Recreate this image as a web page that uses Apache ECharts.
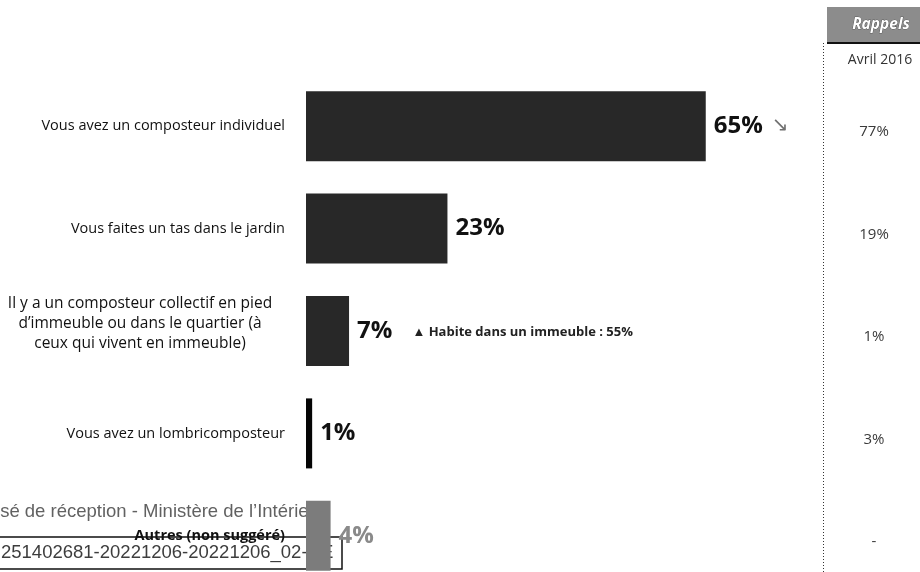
<!DOCTYPE html>
<html>
<head>
<meta charset="utf-8">
<script src="https://cdn.jsdelivr.net/npm/echarts@6/dist/echarts.min.js"></script>
<style>
  html, body { margin: 0; padding: 0; background: #ffffff; }
  #chart { width: 920px; height: 572px; }
</style>
</head>
<body>
<div id="chart"></div>
<script>
// Answers (current wave) and the reminder column from April 2016
const categories = [
  'Vous avez un composteur individuel',
  'Vous faites un tas dans le jardin',
  'Il y a un composteur collectif en pied\nd\u2019immeuble ou dans le quartier (à\nceux qui vivent en immeuble)',
  'Vous avez un lombricomposteur',
  'Autres (non suggéré)'
];
const values = [65, 23, 7, 1, 4];
const rappels2016 = ['77%', '19%', '1%', '3%', '-'];
const notes = ['\u2198', '', '\u25B2 Habite dans un immeuble : 55%', '', ''];

// Styling per bar
const barColors = ['#282828', '#282828', '#282828', '#050505', '#7c7c7c'];
const valueTokens = ['v', 'v', 'v', 'v', 'vg'];
const noteTokens = ['a', '', 'n', '', ''];

const chart = echarts.init(document.getElementById('chart'));

const FONT = '"Open Sans", sans-serif';
const STAMP_FONT = '18.5px "Liberation Sans", Arial, sans-serif';

chart.setOption({
  backgroundColor: '#ffffff',
  animation: false,
  grid: { left: 306, top: 75, width: 492, height: 512, outerBoundsMode: 'none' },
  xAxis: { type: 'value', min: 0, max: 80, show: false },
  yAxis: [
    {
      type: 'category',
      data: categories,
      inverse: true,
      axisLine: { show: false },
      axisTick: { show: false },
      splitLine: { show: false },
      axisLabel: {
        margin: 21,
        fontSize: 14.5,
        fontFamily: FONT,
        color: '#111111',
        formatter: function (value, idx) {
          if (value.indexOf('\n') >= 0) {
            // centred multi-line block, nudged upward by a blank trailing line
            return value.split('\n').map(function (l) { return '{c|' + l + '}'; }).join('\n') + '\n{e| }';
          }
          if (idx === categories.length - 1) return '{b|' + value + '}';
          return value;
        },
        rich: {
          c: { width: 290, align: 'center', fontSize: 15.5, lineHeight: 20, fontFamily: FONT, color: '#111111' },
          e: { fontSize: 8, lineHeight: 14 },
          b: { fontSize: 14.5, fontWeight: 'bold', fontFamily: FONT, color: '#111111' }
        }
      }
    },
    {
      type: 'category',
      data: categories,
      inverse: true,
      position: 'right',
      axisLine: { show: false },
      axisTick: { show: false },
      splitLine: { show: false },
      axisLabel: {
        margin: 76,
        align: 'center',
        // a short blank line above each value sets it slightly below the bar centre
        formatter: function (value, idx) { return '{e| }\n{r|' + rappels2016[idx] + '}'; },
        rich: {
          e: { fontSize: 8, lineHeight: 12 },
          r: { fontSize: 15, lineHeight: 20, fontFamily: FONT, color: '#3a3a3a' }
        }
      }
    }
  ],
  series: [
    {
      type: 'bar',
      yAxisIndex: 0,
      barWidth: 70,
      z: 5,
      data: values.map(function (v, i) {
        return { value: v, itemStyle: { color: barColors[i] } };
      }),
      label: {
        show: true,
        position: 'right',
        distance: 8,
        formatter: function (p) {
          const i = p.dataIndex;
          let s = '{' + valueTokens[i] + '|' + p.value + '%}';
          if (notes[i]) s += '{' + noteTokens[i] + '|' + notes[i] + '}';
          return s;
        },
        rich: {
          v: { fontSize: 24, fontWeight: 'bold', fontFamily: FONT, color: '#111111' },
          vg: { fontSize: 24, fontWeight: 'bold', fontFamily: FONT, color: '#8a8a8a' },
          a: { fontSize: 20, fontFamily: '"DejaVu Sans", sans-serif', color: '#707070', padding: [0, 0, 0, 9] },
          n: { fontSize: 13, fontWeight: 'bold', fontFamily: FONT, color: '#222222', padding: [2, 0, 0, 20] }
        }
      }
    }
  ],
  graphic: [
    // separator between the chart and the reminder column
    { type: 'line', z: 50, shape: { x1: 823.5, y1: 43, x2: 823.5, y2: 572 },
      style: { stroke: '#333333', lineWidth: 1, lineDash: [1, 2] } },
    // "Rappels" header
    { type: 'rect', z: 50, shape: { x: 827, y: 7, width: 100, height: 36 },
      style: { fill: '#8c8c8c' } },
    { type: 'line', z: 51, shape: { x1: 827, y1: 43, x2: 920, y2: 43 },
      style: { stroke: '#111111', lineWidth: 2 } },
    { type: 'text', z: 52, x: 881, y: 25,
      style: { text: 'Rappels', fill: '#ffffff', font: 'italic bold 15.5px ' + FONT,
               align: 'center', verticalAlign: 'middle', stroke: '#333333', lineWidth: 0.6 } },
    { type: 'text', z: 52, x: 880, y: 60,
      style: { text: 'Avril 2016', fill: '#333333', font: '14px ' + FONT,
               align: 'center', verticalAlign: 'middle' } },
    // reception stamp, lying under the last bar
    { type: 'text', z: 1, x: -41, y: 512,
      style: { text: 'Accusé de réception - Ministère de l\u2019Intérieur', fill: 'rgba(80,80,80,0.9)',
               font: STAMP_FONT, verticalAlign: 'middle' } },
    { type: 'rect', z: 1, shape: { x: -2, y: 537, width: 344, height: 32 },
      style: { fill: 'none', stroke: '#111111', lineWidth: 1.5 } },
    { type: 'text', z: 1, x: 1, y: 553,
      style: { text: '251402681-20221206-20221206_02-DE', fill: 'rgba(40,40,40,0.9)',
               font: STAMP_FONT, verticalAlign: 'middle' } }
  ]
});
</script>
</body>
</html>
